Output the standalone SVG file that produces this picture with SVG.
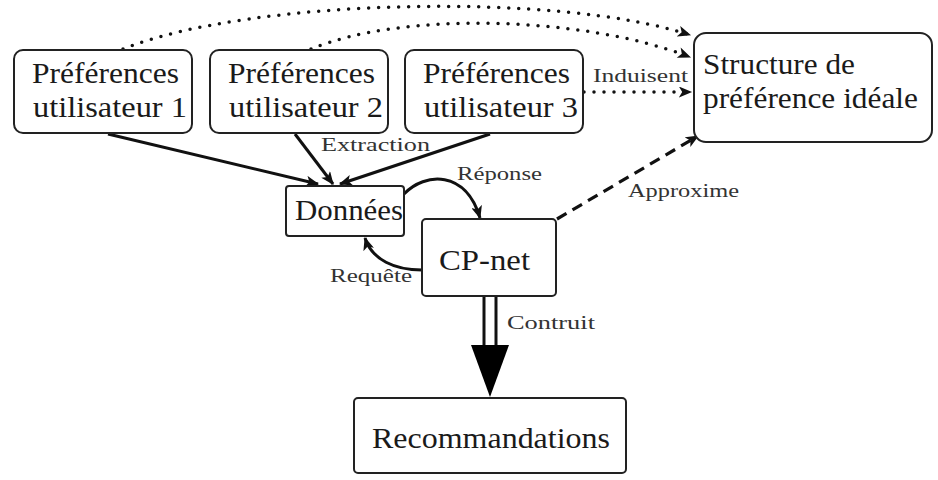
<svg xmlns="http://www.w3.org/2000/svg" width="938" height="480" viewBox="0 0 938 480">
<defs>
<style>
.box{fill:#fff;stroke:#222;stroke-width:2}
.big{font-family:"Liberation Serif","Times New Roman",serif;font-size:29px;fill:#1a1a1a}
.lab{font-family:"Liberation Serif","Times New Roman",serif;font-size:18px;fill:#333}
.solid{fill:none;stroke:#111;stroke-width:3}
.dot{fill:none;stroke:#111;stroke-width:3.5;stroke-linecap:round;stroke-dasharray:0 10}
.dash{fill:none;stroke:#111;stroke-width:3.2;stroke-dasharray:11 7}
</style>
<marker id="arr" viewBox="0 0 12 10" refX="11" refY="5" markerWidth="14" markerHeight="11" markerUnits="userSpaceOnUse" orient="auto">
<path d="M0,0 L12,5 L0,10 L3,5 z" fill="#111"/>
</marker>
</defs>
<rect width="938" height="480" fill="#fff"/>
<g id="connectors">
<path class="dot" d="M123,49 C250,-2 560,-8 690,35" marker-end="url(#arr)"/>
<path class="dot" d="M311,49 C400,12 580,15 690,57" marker-end="url(#arr)"/>
<path class="dot" d="M584,92 L691,92" marker-end="url(#arr)"/>
<path class="solid" d="M108,134 L318,184" marker-end="url(#arr)"/>
<path class="solid" d="M295,134 L333,184" marker-end="url(#arr)"/>
<path class="solid" d="M490,134 L340,184" marker-end="url(#arr)"/>
<path class="solid" d="M404,194 C425,172 466,170 480,218" marker-end="url(#arr)"/>
<path class="solid" d="M422,270 C395,270 372,260 365,238" marker-end="url(#arr)"/>
<path class="dash" d="M557,219 L698,136" marker-end="url(#arr)"/>
<line x1="484" y1="297" x2="484" y2="346" stroke="#111" stroke-width="3"/>
<line x1="496" y1="297" x2="496" y2="346" stroke="#111" stroke-width="3"/>
<polygon points="471,345 509,345 490,397" fill="#000"/>
<text class="lab" x="321" y="151" textLength="109" lengthAdjust="spacingAndGlyphs">Extraction</text>
<text class="lab" x="593" y="82" textLength="95" lengthAdjust="spacingAndGlyphs">Induisent</text>
<text class="lab" x="457" y="180" textLength="85" lengthAdjust="spacingAndGlyphs">Réponse</text>
<text class="lab" x="330" y="282" textLength="82" lengthAdjust="spacingAndGlyphs">Requête</text>
<text class="lab" x="628" y="197" textLength="111" lengthAdjust="spacingAndGlyphs">Approxime</text>
<text class="lab" x="507" y="329" textLength="88" lengthAdjust="spacingAndGlyphs">Contruit</text>
</g>
<g id="pref1">
<rect class="box" x="14" y="50" width="178" height="83" rx="9"/>
<text class="big" x="32" y="83" textLength="147" lengthAdjust="spacingAndGlyphs">Préférences</text>
<text class="big" x="33" y="117" textLength="154" lengthAdjust="spacingAndGlyphs">utilisateur 1</text>
</g>
<g id="pref2">
<rect class="box" x="210" y="50" width="178" height="83" rx="9"/>
<text class="big" x="228" y="83" textLength="147" lengthAdjust="spacingAndGlyphs">Préférences</text>
<text class="big" x="229" y="117" textLength="154" lengthAdjust="spacingAndGlyphs">utilisateur 2</text>
</g>
<g id="pref3">
<rect class="box" x="405" y="50" width="178" height="83" rx="9"/>
<text class="big" x="423" y="83" textLength="147" lengthAdjust="spacingAndGlyphs">Préférences</text>
<text class="big" x="424" y="117" textLength="154" lengthAdjust="spacingAndGlyphs">utilisateur 3</text>
</g>
<g id="structure">
<rect class="box" x="694" y="33" width="238" height="109" rx="12"/>
<text class="big" x="703" y="74" textLength="152" lengthAdjust="spacingAndGlyphs">Structure de</text>
<text class="big" x="703" y="108" textLength="215" lengthAdjust="spacingAndGlyphs">préférence idéale</text>
</g>
<g id="donnees">
<rect class="box" x="286" y="186" width="118" height="50" rx="3"/>
<text class="big" x="295" y="220" textLength="108" lengthAdjust="spacingAndGlyphs">Données</text>
</g>
<g id="cpnet">
<rect class="box" x="422" y="219" width="134" height="77" rx="4"/>
<text class="big" x="439" y="270" textLength="91" lengthAdjust="spacingAndGlyphs">CP-net</text>
</g>
<g id="recommandations">
<rect class="box" x="354" y="398" width="272" height="75" rx="4"/>
<text class="big" x="372" y="448" textLength="238" lengthAdjust="spacingAndGlyphs">Recommandations</text>
</g>
</svg>
